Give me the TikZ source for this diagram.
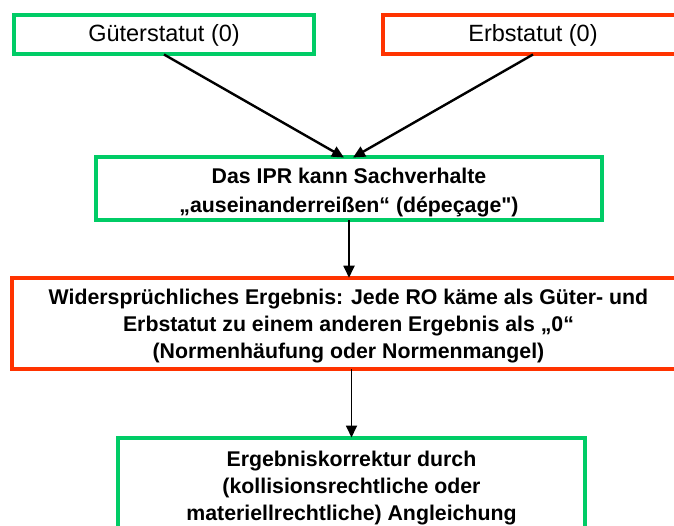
\documentclass[tikz,border=0pt]{standalone}
\usepackage{fontspec}
\setmainfont{Liberation Sans}
\usetikzlibrary{arrows.meta}
\definecolor{boxgreen}{RGB}{0,204,102}
\definecolor{boxred}{RGB}{255,51,0}
% a straight double quote, kept out of the TeX quote mapping
\newcommand{\straightquote}{{\addfontfeature{Ligatures=TeXOff}"}}
\begin{document}
\begin{tikzpicture}[x=1pt,y=1pt,
  box/.style={draw, line width=4pt, rectangle, inner sep=0pt, outer sep=0pt,
              align=center, anchor=center},
  greenbox/.style={box, draw=boxgreen},
  redbox/.style={box, draw=boxred},
  plain/.style={font=\fontsize{23.5}{28}\selectfont},
  strong/.style={font=\fontsize{21.3}{27}\selectfont\bfseries},
  arr/.style={-{Triangle[length=12pt,width=11pt]}, line width=1.8pt},
  thickarr/.style={arr, line width=2.4pt},
]
\useasboundingbox (0,0) rectangle (674,525);
\clip (0,0) rectangle (674,525);

% the two statutes
\node[greenbox, plain, minimum width=300pt, minimum height=39pt] (gueter) at (164,490)
  {Güterstatut (0)};
\node[redbox, plain, minimum width=300pt, minimum height=39pt] (erb) at (533,490)
  {Erbstatut (0)};

% dépeçage
\node[greenbox, strong, minimum width=506pt, minimum height=63pt] (ipr) at (349,336)
  {\rule{0pt}{22pt}Das IPR kann Sachverhalte\\[2pt]„auseinanderreißen“ (dépeçage\straightquote)};

% contradictory result
\node[redbox, strong, minimum width=673pt, minimum height=91.5pt] (wider) at (348.5,201.5)
  {\rule{0pt}{20pt}Widersprüchliches Ergebnis: Jede RO käme als Güter- und\\
   Erbstatut zu einem anderen Ergebnis als „0“\\
   (Normenhäufung oder Normenmangel)};

% correction
\node[greenbox, strong, minimum width=467pt, minimum height=97pt] (korr) at (351.5,39)
  {\rule{0pt}{20pt}Ergebniskorrektur durch\\(kollisionsrechtliche oder\\materiellrechtliche) Angleichung};

% connectors
\draw[thickarr] (gueter.south) -- ([xshift=-5pt]ipr.north);
\draw[thickarr] (erb.south) -- ([xshift=4pt]ipr.north);
\draw[arr] (ipr.south) -- (ipr.south |- wider.north);
\draw[arr] (wider.south -| korr.north) -- (korr.north);
\end{tikzpicture}
\end{document}
